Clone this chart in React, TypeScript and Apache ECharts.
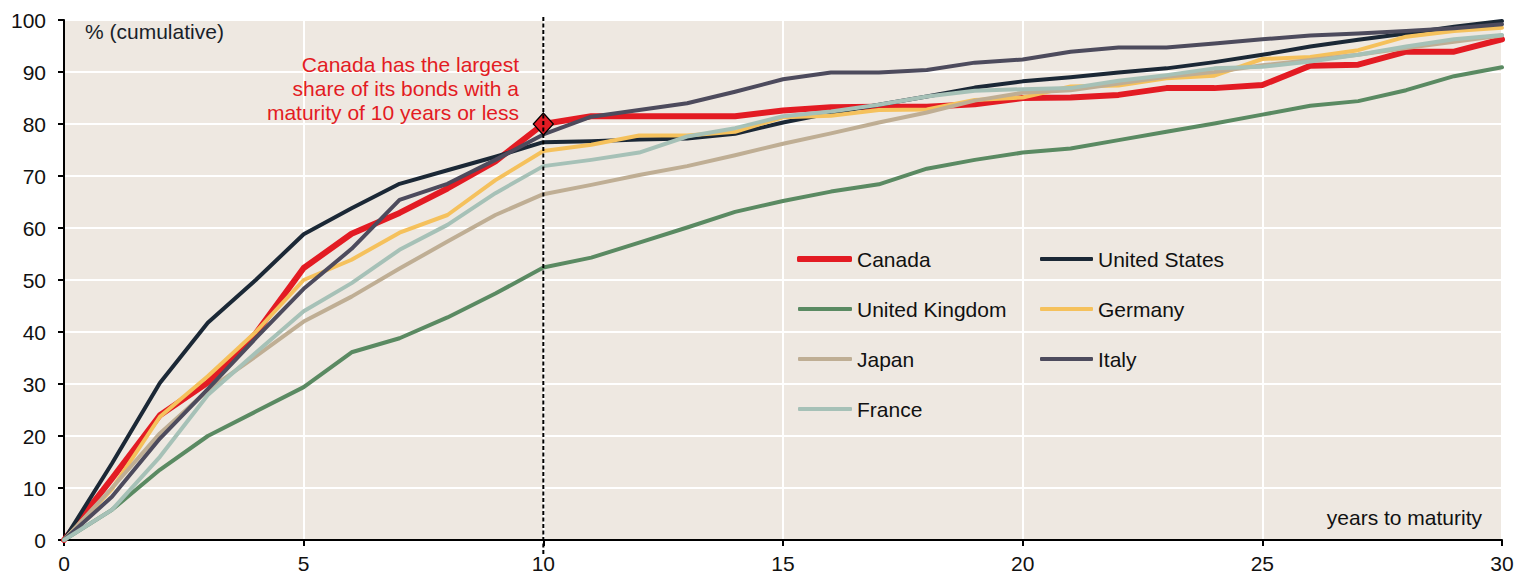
import React, { useEffect, useRef } from "react";
import * as echarts from "echarts";

// years to maturity
const years = [0, 1, 2, 3, 4, 5, 6, 7, 8, 9, 10, 11, 12, 13, 14, 15, 16, 17, 18, 19, 20, 21, 22, 23, 24, 25, 26, 27, 28, 29, 30];

// cumulative share (%) by years to maturity
const canada = [0, 11.8, 24, 30.3, 39.7, 52.3, 58.9, 62.9, 67.6, 72.8, 80, 81.5, 81.5, 81.5, 81.5, 82.6, 83.2, 83.3, 83.3, 83.8, 85, 85.1, 85.6, 86.9, 86.9, 87.5, 91.2, 91.4, 93.9, 93.9, 96.3];
const unitedStates = [0, 14.7, 30.2, 41.8, 50, 58.8, 63.8, 68.5, 71.1, 73.7, 76.5, 76.7, 77, 77.2, 78.1, 80.3, 82.1, 83.7, 85.3, 87, 88.2, 89, 89.9, 90.7, 91.9, 93.3, 94.9, 96.2, 97.4, 98.7, 99.8];
const unitedKingdom = [0, 5.8, 13.5, 20, 24.7, 29.4, 36.1, 38.8, 42.8, 47.4, 52.4, 54.3, 57.2, 60.1, 63.1, 65.2, 67, 68.4, 71.4, 73.1, 74.5, 75.3, 76.9, 78.5, 80.1, 81.8, 83.5, 84.4, 86.5, 89.2, 90.9];
const germany = [0, 9.8, 23.7, 31.5, 40, 50, 53.9, 59.1, 62.5, 69.2, 74.8, 76, 77.8, 77.8, 78.5, 81.3, 81.6, 82.7, 82.8, 84.6, 85.1, 87.2, 87.4, 88.8, 89.3, 92.5, 92.9, 94.2, 96.8, 97.9, 98.5];
const japan = [0, 10, 20.5, 28.8, 35.3, 42, 46.8, 52.2, 57.4, 62.5, 66.5, 68.3, 70.2, 71.9, 74, 76.2, 78.2, 80.3, 82.2, 84.5, 86, 86.5, 87.8, 89.1, 90, 91.3, 92.3, 93.3, 94.6, 95.8, 97];
const italy = [0, 8.3, 19.5, 29, 38.8, 48.3, 56, 65.4, 68.5, 73.1, 78, 81.4, 82.7, 84, 86.2, 88.6, 89.9, 89.9, 90.4, 91.8, 92.4, 93.9, 94.7, 94.7, 95.5, 96.3, 97, 97.4, 97.9, 98.4, 99.2];
const france = [0, 5.8, 16, 27.9, 36, 44, 49.4, 55.8, 60.6, 66.7, 71.9, 73.1, 74.5, 77.6, 79.2, 81.5, 82.4, 83.7, 85.3, 86.4, 86.7, 86.9, 88.3, 89.4, 90.7, 91, 92, 93.3, 94.9, 96.3, 97.1];

const highlightYear = 10;
const highlightValue = 80;

const legendTopLeft = ["Canada"];
const legendLeft = ["United Kingdom", "Japan", "France"];
const legendRight = ["United States", "Germany", "Italy"];

const RED = "#e31b23";

const seriesDefs = [
  { name: "Canada", data: canada, color: RED, width: 6 },
  { name: "United States", data: unitedStates, color: "#1b2836", width: 4 },
  { name: "United Kingdom", data: unitedKingdom, color: "#5a8a62", width: 4 },
  { name: "Germany", data: germany, color: "#f5c15c", width: 4 },
  { name: "Japan", data: japan, color: "#bfae94", width: 4 },
  { name: "Italy", data: italy, color: "#4d4b5d", width: 4 },
  { name: "France", data: france, color: "#a6c1b7", width: 4 },
];

const FONT = "Arial, 'Liberation Sans', sans-serif";

export default function App() {
  const ref = useRef<HTMLDivElement>(null);

  useEffect(() => {
    const chart = echarts.init(ref.current!, null, { renderer: "svg" });
    const legendText = { fontSize: 21, color: "#111", fontFamily: FONT, lineHeight: 24 };
    const legendBase = {
      orient: "vertical",
      icon: "roundRect",
      itemGap: 26,
      padding: 0,
      selectedMode: false,
      textStyle: legendText,
    };
    chart.setOption({
      animation: false,
      grid: {
        left: 64,
        right: 26,
        top: 20,
        bottom: 37,
        show: true,
        backgroundColor: "#eee8e1",
        borderWidth: 0,
      },
      xAxis: {
        type: "value",
        min: 0,
        max: 30,
        interval: 5,
        axisLine: { show: true, onZero: false, lineStyle: { color: "#000", width: 2 } },
        axisTick: { show: true, length: 6, lineStyle: { color: "#000", width: 2 } },
        axisLabel: { margin: 13, fontSize: 21, color: "#111", fontFamily: FONT },
        splitLine: { show: true, lineStyle: { color: "#fff", width: 2 } },
      },
      yAxis: {
        type: "value",
        min: 0,
        max: 100,
        interval: 10,
        axisLine: { show: true, lineStyle: { color: "#000", width: 2 } },
        axisTick: { show: true, length: 6, lineStyle: { color: "#000", width: 2 } },
        axisLabel: { margin: 18, fontSize: 21, color: "#111", fontFamily: FONT },
        splitLine: { show: true, lineStyle: { color: "#fff", width: 2 } },
      },
      legend: [
        { ...legendBase, data: legendTopLeft, left: 797, top: 247, itemWidth: 55, itemHeight: 6 },
        { ...legendBase, data: legendLeft, left: 798, top: 297, itemWidth: 54, itemHeight: 4 },
        { ...legendBase, data: legendRight, left: 1040, top: 247, itemWidth: 53, itemHeight: 4 },
      ],
      series: seriesDefs.map((s) => ({
        name: s.name,
        type: "line",
        data: years.map((y, i) => [y, s.data[i]]),
        symbol: "none",
        showSymbol: false,
        color: s.color,
        itemStyle: { color: s.color },
        lineStyle: { color: s.color, width: s.width, cap: "round", join: "round" },
        emphasis: { disabled: true },
        silent: true,
        ...(s.name === "Canada"
          ? {
              markPoint: {
                symbol: "diamond",
                symbolSize: [20, 22],
                silent: true,
                itemStyle: { color: RED, borderColor: "#000", borderWidth: 1.3 },
                label: { show: false },
                data: [{ coord: [highlightYear, highlightValue] }],
              },
            }
          : {}),
      })),
    });

    const xPix = chart.convertToPixel({ xAxisIndex: 0 }, highlightYear) as number;
    const yTop = chart.convertToPixel({ yAxisIndex: 0 }, 100) as number;
    const yBottom = chart.convertToPixel({ yAxisIndex: 0 }, 0) as number;

    chart.setOption({
      graphic: [
        {
          type: "line",
          z: 100,
          silent: true,
          shape: { x1: xPix, y1: yTop - 3, x2: xPix, y2: yBottom + 15 },
          style: { stroke: "#000", lineWidth: 2, lineDash: [4, 2.5] },
        },
        {
          type: "text",
          z: 100,
          left: 85,
          top: 21,
          silent: true,
          style: { text: "% (cumulative)", fontSize: 21, fontFamily: FONT, fill: "#1a1f2a" },
        },
        {
          type: "text",
          z: 100,
          x: 519,
          y: 52,
          silent: true,
          style: {
            text: "Canada has the largest\nshare of its bonds with a\nmaturity of 10 years or less",
            fontSize: 21,
            lineHeight: 24,
            fontFamily: FONT,
            fill: RED,
            align: "right",
            verticalAlign: "top",
          },
        },
        {
          type: "text",
          z: 100,
          x: 1482,
          y: 517,
          silent: true,
          style: {
            text: "years to maturity",
            fontSize: 21,
            fontFamily: FONT,
            fill: "#111",
            align: "right",
            verticalAlign: "middle",
          },
        },
      ],
    });

    return () => chart.dispose();
  }, []);

  return (
    <div
      ref={ref}
      style={{ position: "absolute", left: 0, top: 0, width: 1528, height: 577, background: "#fff" }}
    />
  );
}
